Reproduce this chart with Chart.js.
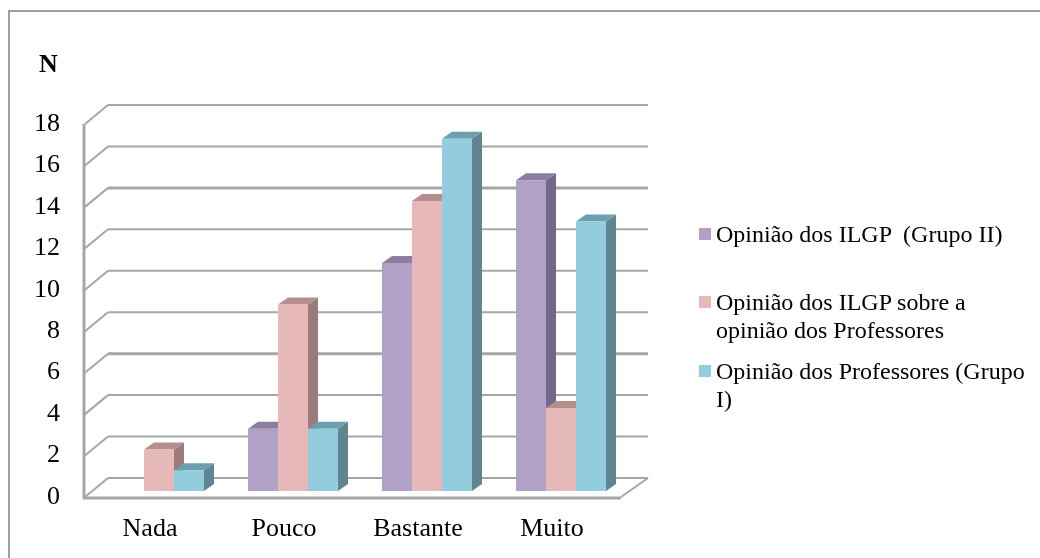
<!DOCTYPE html>
<html lang="pt">
<head>
<meta charset="utf-8">
<title>Opinião dos ILGP e dos Professores</title>
<script src="https://cdn.jsdelivr.net/npm/chart.js@4/dist/chart.umd.min.js"></script>
<style>
    html, body { margin: 0; padding: 0; background: #fff; }
    #quadro { position: relative; width: 1040px; height: 558px; overflow: hidden; font-family: "Liberation Serif", serif; color: #000; }
    #moldura { position: absolute; left: 8px; top: 10px; right: -4px; bottom: -4px; border: 2px solid #a0a0a0; }
    #eixoN { position: absolute; left: 39px; top: 50px; font-size: 26px; font-weight: bold; line-height: 28px; }
    #legenda { position: absolute; left: 699px; top: 220px; width: 335px; }
    .item { position: absolute; left: 0; font-size: 24px; line-height: 28px; padding-left: 17px; white-space: pre; }
    .item i { position: absolute; left: 0; top: 8px; width: 12px; height: 12px; }
    canvas { position: absolute; left: 0; top: 0; }
</style>
</head>
<body>
<div id="quadro">
    <canvas id="chart" width="1040" height="558"></canvas>
    <div id="moldura"></div>
    <div id="eixoN">N</div>
    <div id="legenda"></div>
</div>
<script>
const categorias = ['Nada', 'Pouco', 'Bastante', 'Muito'];
const ilgp = [0, 3, 11, 15];
const ilgpSobreProfessores = [2, 9, 14, 4];
const professores = [1, 3, 17, 13];
const nomesSeries = [
    'Opinião dos ILGP  (Grupo II)',
    'Opinião dos ILGP sobre a\nopinião dos Professores',
    'Opinião dos Professores (Grupo\nI)'
];

const corFrente = ['#b2a1c7', '#e6b9b8', '#93cddd'];
const corTopo = ['#8d7ea0', '#b58f8e', '#6b9fae'];
const corLado = ['#74678a', '#9c7a79', '#5f8590'];

// profundidade da parede do fundo e deslocamento das barras
const fundoX = 23, fundoY = -19;
const barraX = 7, barraY = -6;
const profX = 10, profY = -7;
const corGrade = '#a6a6a6';

function linha(ctx, x1, y1, x2, y2, largura) {
    ctx.beginPath();
    ctx.moveTo(x1, y1);
    ctx.lineTo(x2, y2);
    ctx.lineWidth = largura;
    ctx.strokeStyle = corGrade;
    ctx.stroke();
}

function poligono(ctx, cor, pontos) {
    ctx.beginPath();
    pontos.forEach((p, i) => i ? ctx.lineTo(p[0], p[1]) : ctx.moveTo(p[0], p[1]));
    ctx.closePath();
    ctx.fillStyle = cor;
    ctx.fill();
}

const caixa3d = {
    id: 'caixa3d',
    beforeDatasetsDraw(chart) {
        const { ctx, chartArea, scales: { y } } = chart;
        const esq = chartArea.left, dir = chartArea.right;

        ctx.save();
        y.ticks.forEach(t => {
            const py = y.getPixelForValue(t.value);
            const grossa = t.value === 14 || t.value === 6;
            linha(ctx, esq + fundoX, py + fundoY, dir + fundoX + 4, py + fundoY, grossa ? 3 : 2);
            linha(ctx, esq, py, esq + fundoX, py + fundoY, 2);
        });
        const y0 = y.getPixelForValue(0);
        linha(ctx, dir, y0, dir + fundoX + 4, y0 + fundoY, 2);
        linha(ctx, esq - 1, y.getPixelForValue(18), esq - 1, y0 + 1, 3);
        linha(ctx, esq - 2, y0 + 1, dir, y0 + 1, 3);

        // faces de topo e lateral, da primeira série para a última
        ctx.translate(barraX, barraY);
        chart.data.datasets.forEach((ds, i) => {
            chart.getDatasetMeta(i).data.forEach((bar, j) => {
                if (!ds.data[j]) return;
                const d = bar.x + bar.width / 2, e = bar.x - bar.width / 2;
                poligono(ctx, corLado[i], [[d, bar.y], [d + profX, bar.y + profY], [d + profX, bar.base + profY], [d, bar.base]]);
                poligono(ctx, corTopo[i], [[e, bar.y], [e + profX, bar.y + profY], [d + profX, bar.y + profY], [d, bar.y]]);
            });
        });
    },
    afterDatasetsDraw(chart) {
        chart.ctx.restore();
    }
};

new Chart(document.getElementById('chart').getContext('2d'), {
    type: 'bar',
    data: {
        labels: categorias,
        datasets: [ilgp, ilgpSobreProfessores, professores].map((valores, i) => ({
            label: nomesSeries[i],
            data: valores,
            backgroundColor: corFrente[i],
            borderWidth: 0,
            categoryPercentage: 90 / 134,
            barPercentage: 1,
            clip: false
        }))
    },
    options: {
        responsive: false,
        animation: false,
        layout: { padding: { top: 124, right: 419 } },
        plugins: { legend: { display: false }, tooltip: { enabled: false } },
        scales: {
            x: {
                grid: { display: false },
                border: { display: false },
                ticks: {
                    color: '#000',
                    padding: 9,
                    labelOffset: -2,
                    autoSkip: false,
                    maxRotation: 0,
                    font: { family: '"Liberation Serif"', size: 26 }
                },
                afterFit: s => { s.height = 61; }
            },
            y: {
                min: 0,
                max: 18,
                grid: { display: false },
                border: { display: false },
                afterFit: s => { s.width = 85; },
                ticks: {
                    stepSize: 2,
                    color: '#000',
                    padding: 17,
                    font: { family: '"Liberation Serif"', size: 26 }
                }
            }
        }
    },
    plugins: [caixa3d]
});

// legenda à direita, cada item com a mesma altura
const legenda = document.getElementById('legenda');
const topoItem = [0, 68, 137];
nomesSeries.forEach((nome, i) => {
    const item = document.createElement('div');
    item.className = 'item';
    item.style.top = topoItem[i] + 'px';
    item.textContent = nome;
    const marca = document.createElement('i');
    marca.style.background = corFrente[i];
    item.appendChild(marca);
    legenda.appendChild(item);
});
</script>
</body>
</html>
